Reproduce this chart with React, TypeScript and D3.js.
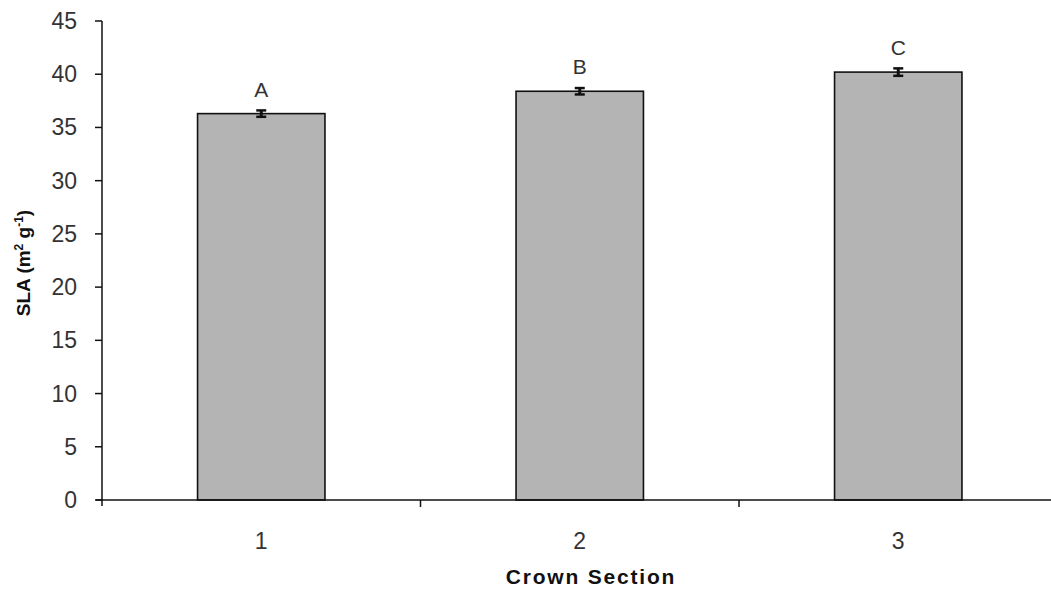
import React from "react";
import * as d3 from "d3";

const categories = ["1", "2", "3"];
const values = [36.3, 38.4, 40.2];
const errors = [0.3, 0.3, 0.35];
const letters = ["A", "B", "C"];
const yTicks = [0, 5, 10, 15, 20, 25, 30, 35, 40, 45];

export default function App() {
  const W = 1051, H = 596;
  const x0 = 102, x1 = 1057.5, yTop = 21, yBot = 500;
  const x = d3.scaleBand<string>().domain(categories).range([x0, x1]).paddingInner(0.6).paddingOuter(0.3);
  const xb = d3.scaleBand<string>().domain(categories).range([x0, x1]).padding(0);
  const y = d3.scaleLinear().domain([0, 45]).range([yBot, yTop]);
  const font = "Liberation Sans, Arial, sans-serif";
  return (
    <svg width={W} height={H} style={{ position: "absolute", left: 0, top: 0, background: "#fff" }}>
      {categories.map((c, i) => (
        <g key={c}>
          <rect x={x(c)} y={y(values[i])} width={x.bandwidth()} height={yBot - y(values[i])}
            fill="#b4b4b4" stroke="#111" strokeWidth={1.6} />
          <line x1={x(c)! + x.bandwidth() / 2} x2={x(c)! + x.bandwidth() / 2}
            y1={y(values[i] + errors[i])} y2={y(values[i] - errors[i])} stroke="#111" strokeWidth={3} />
          <line x1={x(c)! + x.bandwidth() / 2 - 5} x2={x(c)! + x.bandwidth() / 2 + 5}
            y1={y(values[i] + errors[i])} y2={y(values[i] + errors[i])} stroke="#111" strokeWidth={2.5} />
          <line x1={x(c)! + x.bandwidth() / 2 - 5} x2={x(c)! + x.bandwidth() / 2 + 5}
            y1={y(values[i] - errors[i])} y2={y(values[i] - errors[i])} stroke="#111" strokeWidth={2.5} />
          <text x={x(c)! + x.bandwidth() / 2} y={y(values[i]) - 17} textAnchor="middle"
            fontFamily={font} fontSize={21} fill="#333">{letters[i]}</text>
          <text x={x(c)! + x.bandwidth() / 2} y={549} textAnchor="middle"
            fontFamily={font} fontSize={23} fill="#333">{c}</text>
        </g>
      ))}
      {/* axes */}
      <line x1={x0} x2={x0} y1={yTop} y2={yBot + 6} stroke="#111" strokeWidth={1.5} />
      <line x1={x0 - 6} x2={W} y1={yBot} y2={yBot} stroke="#111" strokeWidth={1.5} />
      {yTicks.map(t => (
        <g key={t}>
          <line x1={x0 - 7} x2={x0} y1={y(t)} y2={y(t)} stroke="#111" strokeWidth={1.5} />
          <text x={77} y={y(t) + 8} textAnchor="end" fontFamily={font} fontSize={23} fill="#333">{t}</text>
        </g>
      ))}
      {categories.map(c => (
        <line key={"t" + c} x1={xb(c)! + xb.bandwidth()} x2={xb(c)! + xb.bandwidth()} y1={yBot} y2={yBot + 7}
          stroke="#111" strokeWidth={1.5} />
      ))}
      <text x={591} y={584} textAnchor="middle" fontFamily={font} fontSize={21} fontWeight="bold"
        letterSpacing={1.8} fill="#111">Crown Section</text>
      <text transform="translate(30,263) rotate(-90)" textAnchor="middle" fontFamily={font} fontSize={19}
        fontWeight="bold" fill="#111">
        SLA (m<tspan dy={-7} fontSize={12}>2</tspan><tspan dy={7}> g</tspan><tspan dy={-7} fontSize={12}>-1</tspan><tspan dy={7}>)</tspan>
      </text>
    </svg>
  );
}
